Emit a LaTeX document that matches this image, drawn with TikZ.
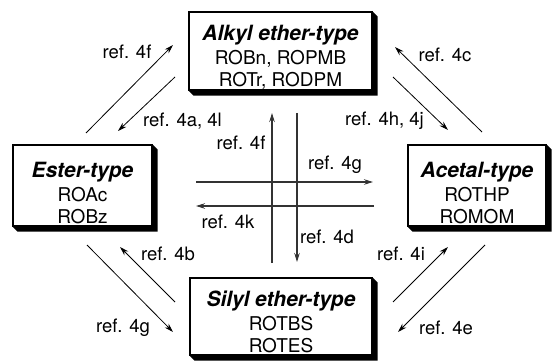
\documentclass[tikz,border=0pt]{standalone}
\usepackage{fontspec}
\setmainfont{TeX Gyre Heros}
\usetikzlibrary{arrows.meta,backgrounds}
\begin{document}
\begin{tikzpicture}[x=1pt,y=-1pt,
  typebox/.style={draw,line width=1.1pt,fill=white,inner sep=0pt},
  boxtext/.style={align=center,inner sep=0pt,font=\fontsize{19}{22}\selectfont},
  ref/.style={font=\fontsize{18.5}{20}\selectfont,inner sep=0pt},
  thin/.style={line width=0.8pt,-{Stealth[length=9pt,width=5.5pt]}},
  axis/.style={line width=1.1pt,draw=black!80,-{Stealth[length=9pt,width=5.5pt]}}]
\useasboundingbox (0,0) rectangle (552,361);
\newcommand{\hd}[1]{{\fontsize{21}{22}\selectfont\bfseries\itshape #1}\\[2pt]}
% bevelled black extrusion below and right of a box
\newcommand{\extrude}[1]{%
  \fill (#1.north east) -- ([shift={(5,5)}]#1.north east)
    -- ([shift={(5,5)}]#1.south east) -- ([shift={(5,5)}]#1.south west)
    -- (#1.south west) -- cycle;}

% the four protecting-group classes
\node[typebox,minimum width=183pt,minimum height=78pt] (alkyl) at (280.5,51) {};
\node[boxtext] (alkyl-t) at ([yshift=-6.5pt]alkyl.center)
  {\hd{Alkyl ether-type}ROBn, ROPMB\\ROTr, RODPM};
\node[typebox,minimum width=139pt,minimum height=81pt] (ester) at (82.5,185.5) {};
\node[boxtext] (ester-t) at ([yshift=-8pt]ester.center)
  {\hd{Ester-type}ROAc\\ROBz};
\node[typebox,minimum width=138pt,minimum height=81pt] (acetal) at (477,185.5) {};
\node[boxtext] (acetal-t) at ([yshift=-8pt]acetal.center)
  {\hd{Acetal-type}ROTHP\\ROMOM};
\node[typebox,minimum width=182pt,minimum height=77pt] (silyl) at (281,316.5) {};
\node[boxtext] (silyl-t) at ([yshift=-5pt]silyl.center)
  {\hd{Silyl ether-type}ROTBS\\ROTES};

\begin{scope}[on background layer]
  \extrude{alkyl}\extrude{ester}\extrude{acetal}\extrude{silyl}
\end{scope}

% arrow end points
\coordinate (a1) at (86,133);  \coordinate (a2) at (173,45);
\coordinate (b1) at (175,77);  \coordinate (b2) at (118,131);
\coordinate (c1) at (482,132); \coordinate (c2) at (395,47);
\coordinate (d1) at (393,77);  \coordinate (d2) at (448,130);
\coordinate (e1) at (87,245);  \coordinate (e2) at (173,332);
\coordinate (f1) at (175,302); \coordinate (f2) at (120,247);
\coordinate (g1) at (393,302); \coordinate (g2) at (448,247);
\coordinate (h1) at (485,245); \coordinate (h2) at (398,332);
\coordinate (v1) at (272,263); \coordinate (v2) at (272,113);
\coordinate (w1) at (297,113); \coordinate (w2) at (297,262);
\coordinate (r1) at (196,182); \coordinate (r2) at (373,182);
\coordinate (l1) at (374,206); \coordinate (l2) at (196,206);

% diagonal conversions
\draw[thin] (a1) -- (a2);
\draw[thin] (b1) -- (b2);
\draw[thin] (c1) -- (c2);
\draw[thin] (d1) -- (d2);
\draw[thin] (e1) -- (e2);
\draw[thin] (f1) -- (f2);
\draw[thin] (g1) -- (g2);
\draw[thin] (h1) -- (h2);

% central cross
\draw[axis] (v1) -- (v2);
\draw[axis] (w1) -- (w2);
\draw[axis] (r1) -- (r2);
\draw[axis] (l1) -- (l2);

% references
\node[ref] (t1) at (127,52) {ref. 4f};
\node[ref,anchor=west] (t2) at (143,121) {ref. 4a, 4l};
\node[ref] (t3) at (445,55) {ref. 4c};
\node[ref,anchor=east] (t4) at (424,121) {ref. 4h, 4j};
\node[ref] (t5) at (168,254) {ref. 4b};
\node[ref] (t6) at (123,328) {ref. 4g};
\node[ref] (t7) at (401,254) {ref. 4i};
\node[ref] (t8) at (446,328) {ref. 4e};
\node[ref] (t9) at (241,143) {ref. 4f};
\node[ref] (t10) at (335,165) {ref. 4g};
\node[ref] (t11) at (228,222) {ref. 4k};
\node[ref] (t12) at (327,237) {ref. 4d};
\end{tikzpicture}
\end{document}
